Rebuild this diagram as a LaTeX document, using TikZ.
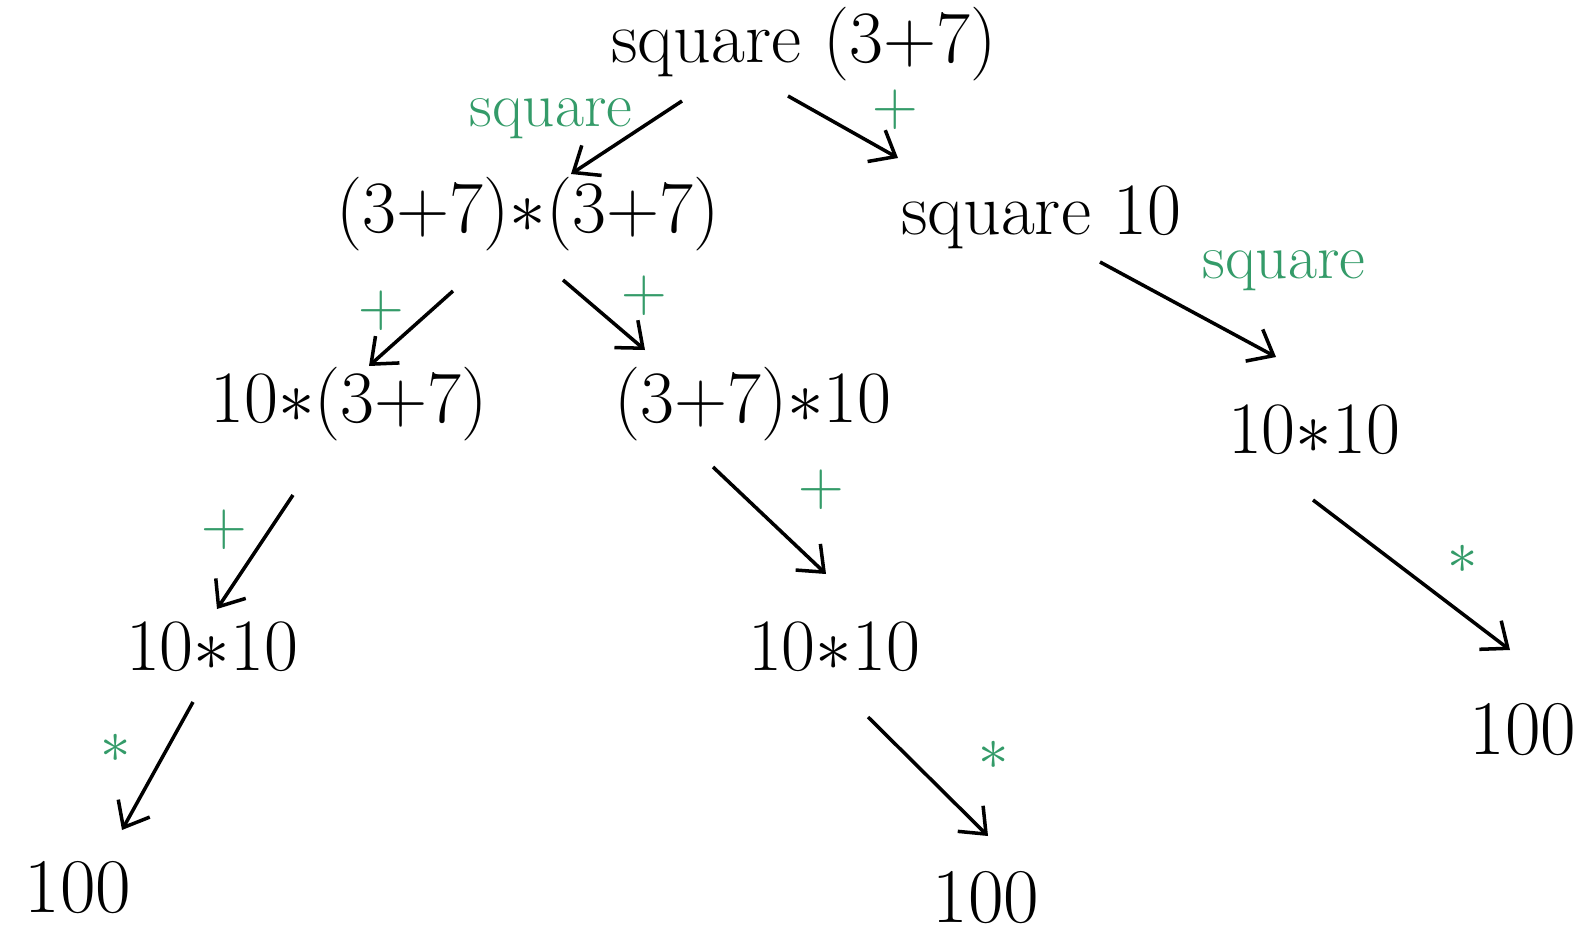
\documentclass[tikz,border=0pt]{standalone}
\usepackage{xcolor}
\usepackage{amsmath,amssymb}
\usepackage{tikz}
\usetikzlibrary{
    arrows.meta,
    positioning,
    calc
}
\definecolor{rulegreen}{RGB}{52,155,105}
\newcommand{\tms}{\ensuremath{\ast}}

\begin{document}
\begin{tikzpicture}[every path/.style={thin},
    term/.style={font=\fontsize{21}{25}\selectfont, inner sep=1pt},
    result/.style={font=\fontsize{22}{26}\selectfont, inner sep=1pt},
    rule/.style={text=rulegreen, font=\fontsize{18}{22}\selectfont, inner sep=1pt},
    edge/.style={draw, line width=1pt, -{Straight Barb[length=2.2mm,width=3.6mm]}}]
  \useasboundingbox (0,0) rectangle (15.85,-9.38);
  % expressions
  \node[term] (root) at (8.04,-0.44) {square (3+7)};
  \node[term] (lhs)  at (5.28,-2.14) {(3+7)\tms(3+7)};
  \node[term] (sq)   at (10.41,-2.17) {square 10};
  \node[term] (la)   at (3.49,-4.04) {10\tms(3+7)};
  \node[term] (lb)   at (7.53,-4.04) {(3+7)\tms10};
  \node[term] (ra)   at (13.14,-4.30) {10\tms10};
  \node[term] (lc)   at (2.12,-6.47) {10\tms10};
  \node[term] (lm)   at (8.34,-6.47) {10\tms10};
  \node[result] (ld) at (0.78,-8.88) {100};
  \node[result] (md) at (9.86,-8.98) {100};
  \node[result] (rd) at (15.23,-7.30) {100};
  % rules
  \node[rule] (r1)  at (5.51,-1.19) {square};
  \node[rule] (r2)  at (8.95,-1.10) {+};
  \node[rule] (r3)  at (3.81,-3.11) {+};
  \node[rule] (r4)  at (6.44,-2.96) {+};
  \node[rule] (r5)  at (12.84,-2.71) {square};
  \node[rule] (r6)  at (2.24,-5.30) {+};
  \node[rule] (r7)  at (8.21,-4.90) {+};
  \node[rule] (r8)  at (14.63,-5.59) {\tms};
  \node[rule] (r9)  at (1.16,-7.48) {\tms};
  \node[rule] (r10) at (9.94,-7.55) {\tms};
  % steps
  \foreach \a/\sa/\b/\sb in {root/{(-1.22,-0.57)}/lhs/{(0.43,0.40)},
                             root/{(-0.16,-0.52)}/sq/{(-1.43,0.59)},
                             lhs/{(-0.75,-0.77)}/la/{(0.20,0.38)},
                             lhs/{(0.35,-0.66)}/lb/{(-1.08,0.54)},
                             sq/{(0.59,-0.45)}/ra/{(-0.38,0.73)},
                             la/{(-0.56,-0.91)}/lc/{(0.05,0.38)},
                             lb/{(-0.40,-0.63)}/lm/{(-0.08,0.73)},
                             ra/{(-0.01,-0.70)}/rd/{(-0.13,0.80)},
                             lc/{(-0.19,-0.55)}/ld/{(0.44,0.58)},
                             lm/{(0.34,-0.70)}/md/{(0.02,0.62)}}
     {\draw[edge] ([shift={\sa}]\a.center) -- ([shift={\sb}]\b.center);}
\end{tikzpicture}
\end{document}
